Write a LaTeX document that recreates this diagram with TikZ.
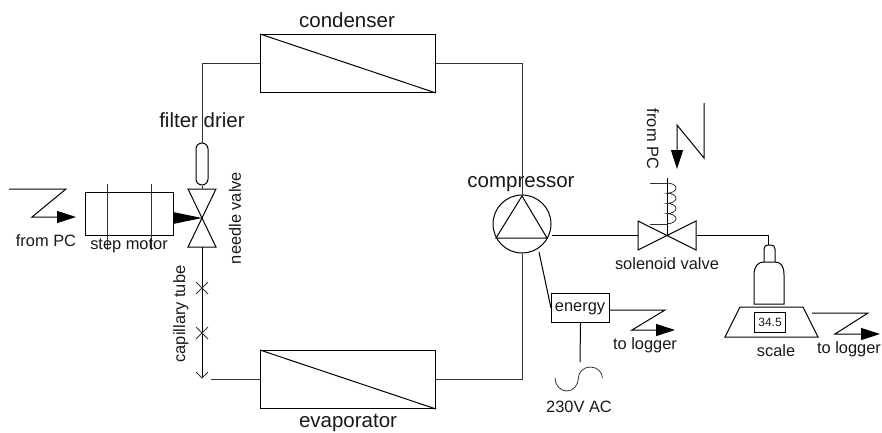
\documentclass[tikz,border=0pt]{standalone}
\usepackage{fontspec}
\setmainfont{Liberation Sans}
\usetikzlibrary{arrows.meta}
\tikzset{
  pipe/.style={line width=0.8pt,draw=black!80},
  part/.style={line width=1pt,draw=black},
  signal/.style={line width=1pt,draw=black,-{Triangle[length=19pt,width=12pt]}},
  lab/.style={inner sep=0pt,text=black!90},
  big/.style={lab,font=\fontsize{20.5}{24}\selectfont},
  mid/.style={lab,font=\fontsize{16.4}{19}\selectfont},
  box/.style={part,rectangle,inner sep=0pt,anchor=north west},
}
\begin{document}
\begin{tikzpicture}[x=1pt,y=-1pt]
\useasboundingbox (0,0) rectangle (882,432);
% heat exchangers
\node[box,minimum width=175pt,minimum height=58pt] (cond) at (260,34) {};
\node[box,minimum width=175pt,minimum height=58pt] (evap) at (260,350) {};
\draw[part] (cond.north west) -- (cond.south east);
\draw[part] (evap.north west) -- (evap.south east);
\node[big] (tcond) at (347,20) {condenser};
\node[big] (tevap) at (348,423) {evaporator};
% compressor
\node[part,circle,minimum size=58pt,inner sep=0pt] (comp) at (522,224) {};
\coordinate (tt) at (522,196);
\coordinate (tl) at (496,238);
\coordinate (tr) at (547,238);
\draw[part] (tt) -- (tl) -- (tr) -- cycle;
\node[big] (tcomp) at (521,184) {compressor};
% filter
\node[part,rectangle,rounded corners=6pt,minimum width=12pt,minimum height=42pt,inner sep=0pt] (filt) at (202,164) {};
\node[big] (tfilt) at (202,120) {filter drier};
% main loop
\draw[pipe] (cond.west |- 0,63) -| (filt.north);
\draw[pipe] (cond.east |- 0,63) -| (comp.north);
\draw[pipe] (comp.south) |- (evap.east |- 0,379);
% needle valve
\coordinate (nv) at (202,218);
\draw[part] (nv) -- (188,189) -- (216,189) -- cycle;
\draw[part] (nv) -- (188,247) -- (216,247) -- cycle;
\draw[pipe] (filt.south) -- (202,189);
\node[mid,rotate=90] (tnv) at (235,218) {needle valve};
% capillary
\coordinate (capend) at (202,378);
\draw[part] (202,247) -- (capend);
\draw[pipe] (196,372) -- (capend) -- (208,372);
\draw[pipe] (196,282) -- (208,294) (196,294) -- (208,282);
\draw[pipe] (196,327) -- (208,339) (196,339) -- (208,327);
\draw[pipe] (211,379) -- (evap.west |- 0,379);
\node[mid,rotate=90] (tcap) at (181,314) {capillary tube};
% step motor
\node[box,minimum width=88pt,minimum height=43pt] (motor) at (85,192) {};
\draw[pipe] (107,184) -- (107,250);
\draw[pipe] (151,184) -- (151,250);
\fill (173,212) -- (202,218) -- (173,224) -- cycle;
\node[mid] (tmotor) at (129,246) {step motor};
\draw[signal] (9,189) -- (66,189) -- (32,217) -- (76,217);
\node[mid] (tpc1) at (46,241) {from PC};
% solenoid valve
\coordinate (sv) at (667,235.5);
\draw[part] (sv) -- (638,221) -- (638,250) -- cycle;
\draw[part] (sv) -- (696,221) -- (696,250) -- cycle;
\draw[part] (comp.east |- sv) -- (638,235.5);
\draw[part] (667,178) -- (sv);
\draw[pipe] (650,183) -- (667,183);
\draw[pipe] (650,224) -- (667,224);
\draw[pipe] (667,183) arc[start angle=90,end angle=-90,x radius=9pt,y radius=5.1pt]
  arc[start angle=90,end angle=-90,x radius=9pt,y radius=5.1pt]
  arc[start angle=90,end angle=-90,x radius=9pt,y radius=5.1pt]
  arc[start angle=90,end angle=-90,x radius=9pt,y radius=5.1pt];
\node[mid,rotate=-90] (tpc2) at (653,139) {from PC};
\node[mid] (tsv) at (667,264) {solenoid valve};
\draw[signal] (704,103) -- (704,158) -- (677,125) -- (677,169);
% bottle and scale
\draw[part] (696,235.5) -- (768,235.5) -- (768,245);
\draw[part] (764,262) -- (764,249) .. controls (764,246) and (766,245) .. (768,245) -- (771,245) .. controls (773,245) and (775,246) .. (775,249) -- (775,262);
\draw[part] (754,304) -- (754,275) .. controls (754,266) and (758,262) .. (764,262) -- (775,262) .. controls (781,262) and (784,266) .. (784,275) -- (784,304) -- cycle;
\draw[part] (740,307) -- (803,307) -- (818,337) -- (725,337) -- cycle;
\node[box,minimum width=31pt,minimum height=20pt] (disp) at (754,312) {};
\node[lab,font=\fontsize{12}{14}\selectfont] (tdisp) at (disp.center) {34.5};
\node[mid] (tscale) at (776,351) {scale};
\draw[signal] (812,313) -- (868,313) -- (835,334) -- (880,334);
\node[mid] (tlog2) at (849,349) {to logger};
% energy meter
\node[box,minimum width=58pt,minimum height=29pt] (en) at (551,293) {};
\node[mid] (ten) at (580,308.5) {energy};
\draw[part] (539,252) -- (en.west);
\draw[signal] (en.east |- 0,310) -- (665,310) -- (632,330) -- (675,330);
\node[mid] (tlog1) at (645,345) {to logger};
\coordinate (ac) at (580,362);
\draw[part] (en.south) -- (ac);
\draw[pipe] (555,378) arc[start angle=180,end angle=360,x radius=11.7pt,y radius=13pt]
  arc[start angle=180,end angle=0,x radius=12pt,y radius=11pt];
\node[mid] (tac) at (579,407) {230V AC};
\end{tikzpicture}
\end{document}
